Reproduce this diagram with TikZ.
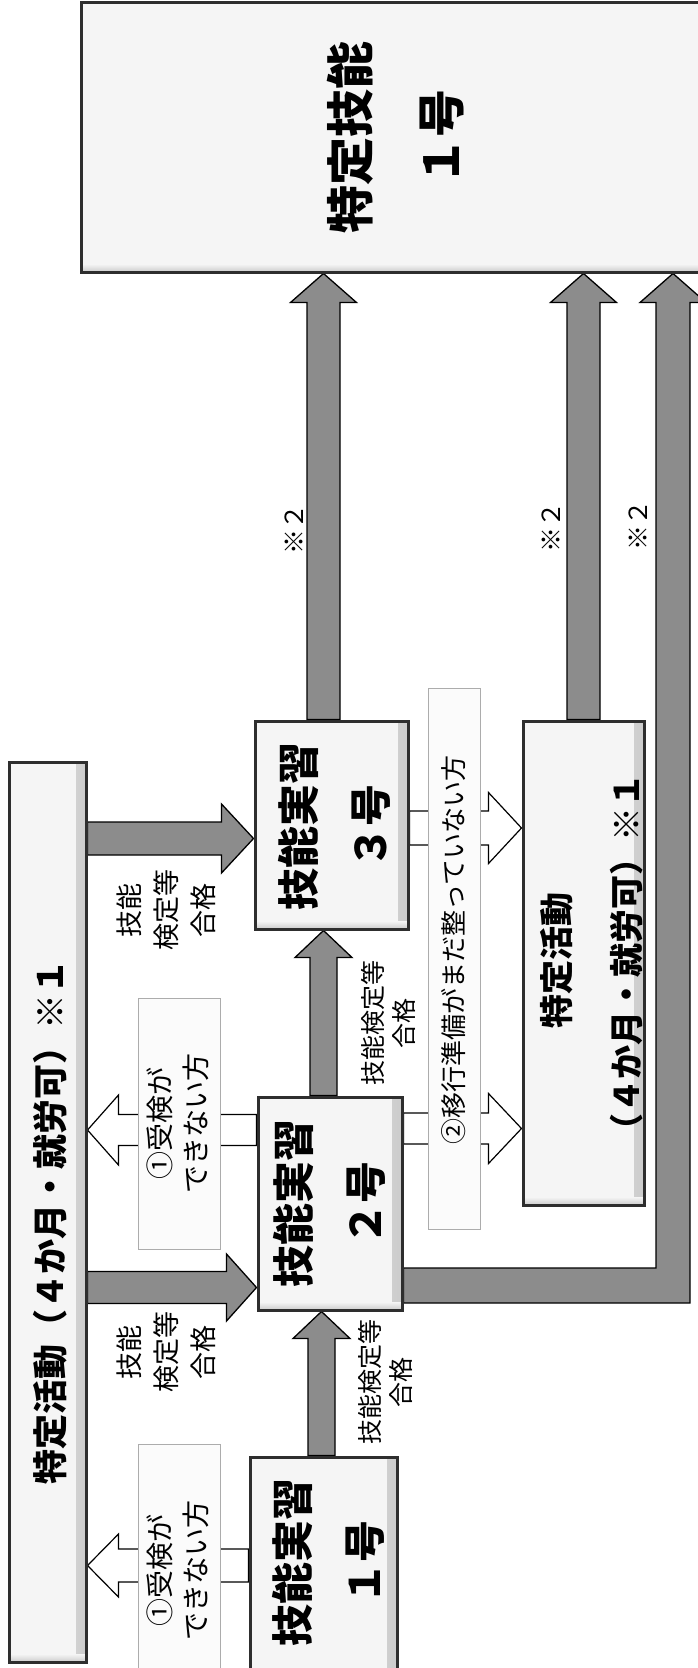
\documentclass[tikz,border=0pt]{standalone}
\usepackage{fontspec}
\setmainfont{Noto Sans CJK JP}
\usetikzlibrary{calc,backgrounds}
\newcommand\ArrUp[6]{\draw[#1] ($#2+(-#4,0)$) -- ($#3+(-#4,#6)$) -- ($#3+(-#5,#6)$) -- #3 -- ($#3+(#5,#6)$) -- ($#3+(#4,#6)$) -- ($#2+(#4,0)$) -- cycle;}
\newcommand\ArrRight[6]{\draw[#1] ($#2+(0,-#4)$) -- ($#3+(-#6,-#4)$) -- ($#3+(-#6,-#5)$) -- #3 -- ($#3+(-#6,#5)$) -- ($#3+(-#6,#4)$) -- ($#2+(0,#4)$) -- cycle;}
\newcommand\ArrLeft[6]{\draw[#1] ($#2+(0,-#4)$) -- ($#3+(#6,-#4)$) -- ($#3+(#6,-#5)$) -- #3 -- ($#3+(#6,#5)$) -- ($#3+(#6,#4)$) -- ($#2+(0,#4)$) -- cycle;}
\begin{document}
\begin{tikzpicture}[x=1pt,y=-1pt,
  mainbox/.style={draw=black!82, line width=3pt, fill=gray!8, inner sep=0pt,
    path picture={
      \shade[left color=gray!8, right color=gray!40] ($(path picture bounding box.north east)+(-10,0)$) rectangle (path picture bounding box.south east);
      \shade[top color=gray!8, bottom color=gray!40] ($(path picture bounding box.south west)+(0,-8)$) rectangle (path picture bounding box.south east);
    }},
  notebox/.style={draw=gray!65, line width=0.9pt, fill=gray!3, inner sep=0pt},
  garrow/.style={draw=black, line width=1.3pt, fill=black!45, line join=miter},
  harrow/.style={draw=black, line width=1.2pt, fill=white, line join=miter},
  boxtxt/.style={rotate=90, align=center, inner sep=0pt, font=\fontsize{42}{72}\selectfont\bfseries},
  sidetxt/.style={rotate=90, align=center, inner sep=0pt, font=\fontsize{35}{70}\selectfont\bfseries},
  notetxt/.style={rotate=90, align=center, inner sep=0pt, font=\fontsize{28}{36}\selectfont},
  labtxt/.style={rotate=90, align=center, inner sep=0pt, font=\fontsize{27}{37}\selectfont},
  labtxtb/.style={rotate=90, align=center, inner sep=0pt, font=\fontsize{25}{31}\selectfont},
  remtxt/.style={rotate=90, inner sep=0pt, font=\fontsize{25}{30}\selectfont}
]
\useasboundingbox (0,0) rectangle (697,1668);
% boxes
\node[mainbox, minimum width=631pt, minimum height=270pt] (tg) at (396.5,137) {};
\node[boxtxt, font=\fontsize{48}{91}\selectfont\bfseries] (tgt) at (395.5,137) {特定技能\\１号};
\node[mainbox, minimum width=77pt, minimum height=900pt] (lbox) at (47.5,1212) {};
\node[sidetxt] (lboxt) at (50,1222) {特定活動（４か月・就労可）※１};
\node[mainbox, minimum width=147pt, minimum height=243pt] (k1) at (323.5,1578.5) {};
\node[boxtxt] (k1t) at (328,1562) {技能実習\\１号};
\node[mainbox, minimum width=144pt, minimum height=213pt] (k2) at (330,1203.5) {};
\node[boxtxt] (k2t) at (329,1203) {技能実習\\２号};
\node[mainbox, minimum width=153pt, minimum height=208pt] (k3) at (331.5,825) {};
\node[boxtxt] (k3t) at (334,826) {技能実習\\３号};
\node[mainbox, minimum width=121pt, minimum height=484pt] (rtk) at (583.5,963) {};
\node[sidetxt, font=\fontsize{34}{70}\selectfont\bfseries] (rtkt) at (592,960) {特定活動\\（４か月・就労可）※１};
% note boxes
\node[notebox, minimum width=82pt, minimum height=251pt] (n1) at (179,1123.5) {};
\node[notetxt] (n1t) at (178,1123) {①受検が\\できない方};
\node[notebox, minimum width=82pt, minimum height=256pt] (n2) at (179,1572) {};
\node[notetxt] (n2t) at (178,1570) {①受検が\\できない方};
\node[notebox, minimum width=52pt, minimum height=541pt] (n3) at (454,958.5) {};
\node[notetxt, font=\fontsize{26}{30}\selectfont] (n3t) at (454,950) {②移行準備がまだ整っていない方};
% labels
\node[labtxt] (lab1) at (166,910) {技能\\検定等\\合格};
\node[labtxt] (lab2) at (166,1352) {技能\\検定等\\合格};
\node[labtxtb] (lab3) at (388,1023) {技能検定等\\合格};
\node[labtxtb] (lab4) at (385,1382) {技能検定等\\合格};
\node[remtxt] (s1) at (294,529) {※２};
\node[remtxt] (s2) at (551,527) {※２};
\node[remtxt] (s3) at (638,525) {※２};
% arrows
\begin{scope}[on background layer]
\coordinate (aT) at ($(k3.north)+(-8,0)$);
\coordinate (aH) at (aT |- tg.south);
\ArrUp{garrow}{(aT)}{(aH)}{16.5}{33}{29}
\coordinate (bT) at (rtk.north);
\coordinate (bH) at (bT |- tg.south);
\ArrUp{garrow}{(bT)}{(bH)}{16.5}{33}{29}
\coordinate (cT) at ($(k2.east)+(0,82)$);
\coordinate (cC) at (673,1285.5);
\coordinate (cH) at (cC |- tg.south);
\draw[garrow] ($(cT)+(0,-17.5)$) -- ($(cC)+(-17,-17.5)$) -- ($(cH)+(-17,29)$) -- ($(cH)+(-33,29)$) -- (cH) -- ($(cH)+(33,29)$) -- ($(cH)+(17,29)$) -- ($(cC)+(17,17.5)$) -- ($(cT)+(0,17.5)$) -- cycle;
\coordinate (dT) at ($(k1.north)+(-2,0)$);
\coordinate (dH) at (dT |- k2.south);
\ArrUp{garrow}{(dT)}{(dH)}{13.5}{28.5}{27}
\coordinate (eT) at ($(k2.north)+(-6.5,0)$);
\coordinate (eH) at (eT |- k3.south);
\ArrUp{garrow}{(eT)}{(eH)}{13.5}{28.5}{27}
\coordinate (fH) at ($(k3.west)+(0,13.5)$);
\coordinate (fT) at (lbox.east |- fH);
\ArrRight{garrow}{(fT)}{(fH)}{16.5}{34.5}{32}
\coordinate (gH) at ($(k2.west)+(0,84)$);
\coordinate (gT) at (lbox.east |- gH);
\ArrRight{garrow}{(gT)}{(gH)}{16}{33.5}{30}
\coordinate (h1T) at ($(k1.west)+(0,-13)$);
\coordinate (h1H) at (lbox.east |- h1T);
\ArrLeft{harrow}{(h1T)}{(h1H)}{16.5}{31.5}{31}
\coordinate (h2T) at ($(k2.west)+(0,-73.5)$);
\coordinate (h2H) at (lbox.east |- h2T);
\ArrLeft{harrow}{(h2T)}{(h2H)}{15.5}{35}{31}
\coordinate (h3T) at ($(k3.east)+(0,3)$);
\coordinate (h3H) at (rtk.west |- h3T);
\ArrRight{harrow}{(h3T)}{(h3H)}{17}{35.5}{33}
\coordinate (h4T) at ($(k2.east)+(0,-75)$);
\coordinate (h4H) at (rtk.west |- h4T);
\ArrRight{harrow}{(h4T)}{(h4H)}{15.5}{35}{33}
\end{scope}
\end{tikzpicture}
\end{document}
